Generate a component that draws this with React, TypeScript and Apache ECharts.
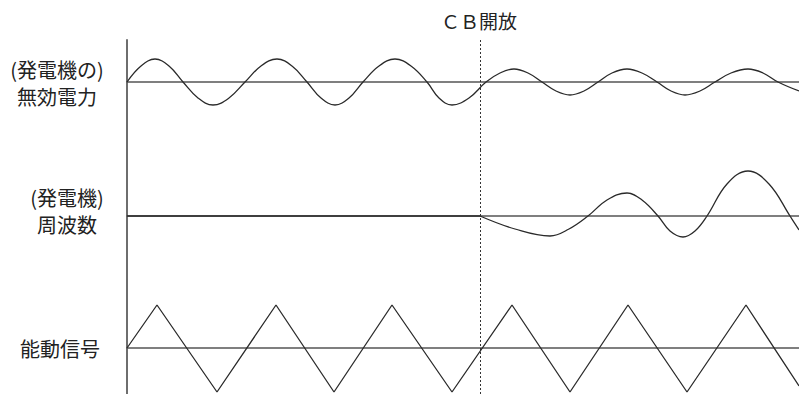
import React, { useEffect, useRef } from "react";
import * as echarts from "echarts";

// x: time offset from the vertical axis (pixel-like units), y: deviation from baseline
const CB_TIME = 353;
const X_MAX = 672;

// (発電機の)無効電力 : points (time, value)
const reactiveTimes = [
  0, 14, 28, 42, 56, 71, 86, 102, 118, 134, 150, 165, 180, 194, 208, 222, 236, 252, 268, 284, 300, 312, 325, 342,
  359, 373, 387, 401, 415, 429, 443, 457, 471, 485, 500, 515, 530, 544, 558, 573, 588, 604, 621, 636, 651, 672,
];
const reactiveValues = [
  0, 16, 23, 16, 0, -16, -23, -16, 0, 16, 23, 16, 0, -16, -23, -16, 0, 16, 23, 16, 0, -16, -23, -16,
  0, 9, 13, 9, 0, -9, -13, -9, 0, 9, 13, 9, 0, -9, -13, -9, 0, 9, 13, 9, 0, -9,
];

// (発電機)周波数 : flat before CB, oscillating after
const freqFlatTimes = [0, 353];
const freqFlatValues = [0, 0];
const freqTimes = [353, 388, 423, 442, 461, 480, 500, 515, 531, 543, 556, 568, 580, 600, 621, 642, 663, 672];
const freqValues = [0, -13, -20, -13, 0, 16, 23, 16, 0, -15, -21, -15, 0, 32, 45, 32, 0, -14];

// 能動信号 : triangle wave
const signalTimes = [0, 30, 90, 149, 207, 265, 325, 385, 443, 501, 560, 619, 672];
const signalValues = [0, 43, -44, 43, -44, 43, -44, 43, -44, 43, -44, 43, -38];

const labelFont = '"Noto Sans CJK JP", sans-serif';

function pairs(xs: number[], ys: number[]) {
  return xs.map((x, i) => [x, ys[i]]);
}

export default function App() {
  const ref = useRef<HTMLDivElement>(null);
  useEffect(() => {
    if (!ref.current) return;
    const chart = echarts.init(ref.current, undefined, { renderer: "svg" });
    const grids = [
      { left: 127, right: 0, top: 40, height: 110 },
      { left: 127, right: 0, top: 150, height: 130 },
      { left: 127, right: 0, top: 280, height: 114 },
    ];
    const yRanges = [
      [-68, 42],
      [-64, 66],
      [-46, 68],
    ];
    const xAxes = grids.map((_, i) => ({
      type: "value",
      gridIndex: i,
      min: 0,
      max: X_MAX,
      axisLine: { show: true, onZero: true, lineStyle: { color: "#555", width: 1.5 } },
      axisTick: { show: false },
      axisLabel: { show: false },
      splitLine: { show: false },
    }));
    const yAxes = grids.map((_, i) => ({
      type: "value",
      gridIndex: i,
      min: yRanges[i][0],
      max: yRanges[i][1],
      axisLine: { show: true, onZero: false, lineStyle: { color: "#6e6e6e", width: 2 } },
      axisTick: { show: false },
      axisLabel: { show: false },
      splitLine: { show: false },
    }));
    const lineStyle = { color: "#2a2a2a", width: 1.3 };
    const cbMark = {
      silent: true,
      symbol: "none",
      label: { show: false },
      lineStyle: { color: "#333", width: 1, type: [2, 2] },
      data: [{ xAxis: CB_TIME }],
    };
    const textStyle = (text: string, size = 20) => ({
      text,
      font: `${size}px ${labelFont}`,
      fill: "#222",
      align: "center",
      verticalAlign: "middle",
      lineHeight: 27,
    });
    chart.setOption({
      animation: false,
      grid: grids,
      xAxis: xAxes,
      yAxis: yAxes,
      series: [
        {
          type: "line",
          xAxisIndex: 0,
          yAxisIndex: 0,
          data: pairs(reactiveTimes, reactiveValues),
          smooth: 0.4,
          symbol: "none",
          lineStyle,
          markLine: cbMark,
        },
        {
          type: "line",
          xAxisIndex: 1,
          yAxisIndex: 1,
          data: pairs(freqFlatTimes, freqFlatValues),
          symbol: "none",
          lineStyle: { color: "#2a2a2a", width: 1.6 },
          markLine: cbMark,
        },
        {
          type: "line",
          xAxisIndex: 1,
          yAxisIndex: 1,
          data: pairs(freqTimes, freqValues),
          smooth: 0.4,
          symbol: "none",
          lineStyle,
        },
        {
          type: "line",
          xAxisIndex: 2,
          yAxisIndex: 2,
          data: pairs(signalTimes, signalValues),
          symbol: "none",
          lineStyle,
          markLine: cbMark,
        },
      ],
      graphic: [
        { type: "text", x: 57, y: 82.5, style: textStyle("(発電機の)\n無効電力") },
        { type: "text", x: 67, y: 211, style: textStyle("(発電機)\n周波数") },
        { type: "text", x: 60, y: 348, style: textStyle("能動信号") },
        { type: "text", x: 479, y: 20, style: textStyle("ＣＢ開放", 19) },
      ],
    });
    return () => chart.dispose();
  }, []);
  return (
    <div
      ref={ref}
      style={{ position: "absolute", left: 0, top: 0, width: 799, height: 394, background: "#fff" }}
    />
  );
}
